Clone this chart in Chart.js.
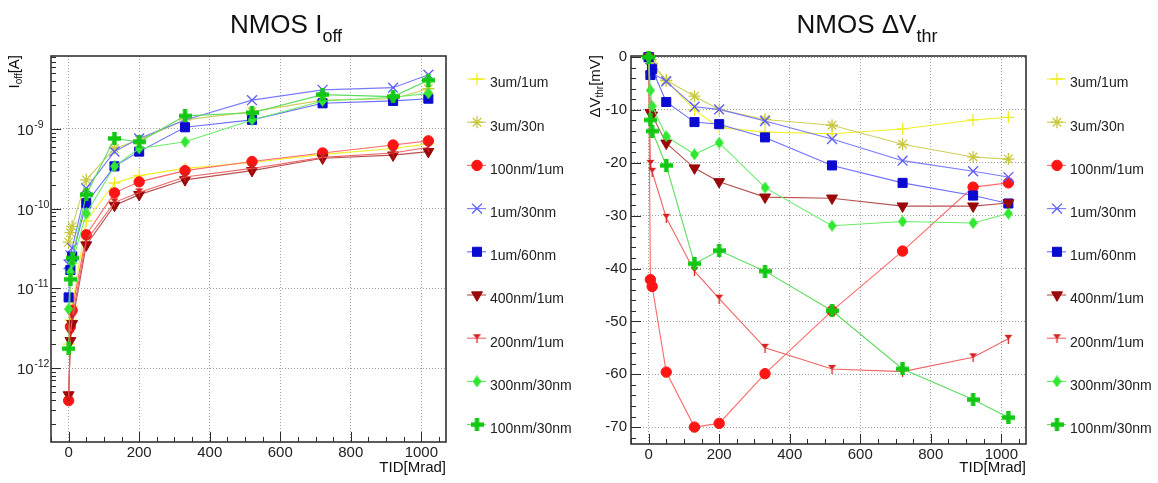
<!DOCTYPE html>
<html><head><meta charset="utf-8">
<script src="https://cdn.jsdelivr.net/npm/chart.js@4.4.1/dist/chart.umd.min.js"></script>
<style>
body{margin:0;background:#fff;width:1158px;height:483px;overflow:hidden;position:relative;font-family:"Liberation Sans",Arial,Helvetica,sans-serif;color:#111;}
canvas{position:absolute;top:0;}
.t{position:absolute;white-space:nowrap;}
.title{font-size:26px;line-height:26px;text-align:center;top:11px;}
.title .sb{font-size:18px;position:relative;top:9px;}
.ax{font-size:15px;line-height:15px;}
.ax .sb{font-size:10px;position:relative;top:3px;}
.rot{transform-origin:0 0;transform:rotate(-90deg);width:200px;text-align:right;}
</style></head><body>
<canvas id="c1" width="572" height="483" style="left:0"></canvas>
<canvas id="c2" width="578" height="483" style="left:580px"></canvas>
<div class="t title" style="left:186px;width:200px">NMOS I<span class="sb">off</span></div>
<div class="t title" style="left:767px;width:200px">NMOS &Delta;V<span class="sb">thr</span></div>
<div class="t ax rot" style="left:6px;top:255px">I<span class="sb">off</span>[A]</div>
<div class="t ax rot" style="left:587px;top:255px">&Delta;V<span class="sb">thr</span>[mV]</div>
<div class="t ax" style="left:246px;width:200px;text-align:right;top:459px">TID[Mrad]</div>
<div class="t ax" style="left:826px;width:200px;text-align:right;top:459px">TID[Mrad]</div>
<script>
// ---------- data ----------
const doses = [0, 5, 10, 50, 130, 200, 330, 520, 720, 920, 1020];
const seriesNames = ['3um/1um','3um/30n','100nm/1um','1um/30nm','1um/60nm','400nm/1um','200nm/1um','300nm/30nm','100nm/30nm'];

// Ioff [A]
const ioff_3um_1um    = [2.0e-12, 4.0e-12, 6.0e-12, 7.0e-11, 2.1e-10, 2.6e-10, 3.2e-10, 3.8e-10, 4.8e-10, 5.7e-10, 6.5e-10];
const ioff_3um_30n    = [3.8e-11, 5.0e-11, 6.0e-11, 2.3e-10, 5.7e-10, 7.3e-10, 1.3e-9, 1.65e-9, 2.3e-9, 2.4e-9, 3.2e-9];
const ioff_100nm_1um  = [3.9e-13, 3.3e-12, 5.3e-12, 4.7e-11, 1.58e-10, 2.17e-10, 3.0e-10, 3.9e-10, 5.0e-10, 6.3e-10, 7.1e-10];
const ioff_1um_30nm   = [2.0e-11, 2.6e-11, 3.2e-11, 1.8e-10, 5.2e-10, 7.6e-10, 1.3e-9, 2.3e-9, 3.1e-9, 3.3e-9, 4.8e-9];
const ioff_1um_60nm   = [7.7e-12, 1.7e-11, 2.5e-11, 1.17e-10, 3.4e-10, 5.2e-10, 1.05e-9, 1.3e-9, 2.1e-9, 2.25e-9, 2.4e-9];
const ioff_400nm_1um  = [4.6e-13, 2.2e-12, 3.6e-12, 3.5e-11, 1.1e-10, 1.5e-10, 2.3e-10, 3.0e-10, 4.3e-10, 4.7e-10, 5.2e-10];
const ioff_200nm_1um  = [4.0e-13, 2.6e-12, 4.2e-12, 4.0e-11, 1.2e-10, 1.6e-10, 2.5e-10, 3.2e-10, 4.4e-10, 5.0e-10, 5.9e-10];
const ioff_300nm_30nm = [5.5e-12, 1.6e-11, 2.1e-11, 8.7e-11, 3.4e-10, 5.7e-10, 6.9e-10, 1.3e-9, 2.25e-9, 2.5e-9, 2.8e-9];
const ioff_100nm_30nm = [1.75e-12, 1.3e-11, 2.4e-11, 1.5e-10, 7.6e-10, 6.9e-10, 1.46e-9, 1.6e-9, 2.7e-9, 2.55e-9, 4.1e-9];

// delta Vthr [mV]
const dv_3um_1um    = [0, -0.8, -1.5, -4.5, -10, -13.3, -14.2, -14.5, -13.6, -11.9, -11.4];
const dv_3um_30n    = [0, -0.5, -1.2, -4.4, -7.4, -9.9, -11.8, -12.9, -16.5, -18.9, -19.3];
const dv_100nm_1um  = [0, -42.1, -43.4, -59.6, -70, -69.3, -59.9, -48, -36.7, -24.6, -23.8];
const dv_1um_30nm   = [0, -2, -3, -4.6, -9.4, -9.9, -12.1, -15.5, -19.6, -21.6, -22.7];
const dv_1um_60nm   = [0, -3.4, -2.3, -8.5, -12.3, -12.7, -15.2, -20.5, -23.8, -26.2, -27.7];
const dv_400nm_1um  = [0, -10.5, -11, -16.3, -21, -23.6, -26.5, -26.7, -28.2, -28.2, -27.6];
const dv_200nm_1um  = [0, -20.2, -21.7, -30.4, -40.5, -45.7, -55, -59, -59.5, -56.8, -53.3];
const dv_300nm_30nm = [0, -6.3, -9.3, -15, -18.4, -16.2, -24.7, -31.9, -31.1, -31.4, -29.6];
const dv_100nm_30nm = [0, -11.9, -14, -20.5, -39.1, -36.6, -40.5, -48, -59, -64.8, -68.2];

// ticks
const xTicks = [0, 200, 400, 600, 800, 1000];
const leftYTicks = [1e-12, 1e-11, 1e-10, 1e-9];
const leftYBase = '10';
const leftYExp = ['-12', '-11', '-10', '-9'];
const rightYTicks = [0, -10, -20, -30, -40, -50, -60, -70];
const rightYLabels = ['0', '-10', '-20', '-30', '-40', '-50', '-60', '-70'];

const ioffSeries = [ioff_3um_1um, ioff_3um_30n, ioff_100nm_1um, ioff_1um_30nm, ioff_1um_60nm, ioff_400nm_1um, ioff_200nm_1um, ioff_300nm_30nm, ioff_100nm_30nm];
const dvSeries = [dv_3um_1um, dv_3um_30n, dv_100nm_1um, dv_1um_30nm, dv_1um_60nm, dv_400nm_1um, dv_200nm_1um, dv_300nm_30nm, dv_100nm_30nm];

// ---------- marker images ----------
function mk(w, h, fn) { const c = document.createElement('canvas'); c.width = w; c.height = h; fn(c.getContext('2d')); return c; }
const greenCross = mk(13, 13, g => { g.fillStyle = '#12c812'; g.fillRect(0, 4.3, 13, 4.4); g.fillRect(4.3, 0, 4.4, 13); });
const greenDiamond = mk(9, 12, g => { g.fillStyle = '#2fe82f'; g.beginPath(); g.moveTo(4.5, 0); g.lineTo(9, 6); g.lineTo(4.5, 12); g.lineTo(0, 6); g.closePath(); g.fill(); });
const redTri = mk(9, 10, g => { g.fillStyle = '#d42020'; g.strokeStyle = '#d42020'; g.lineWidth = 1.3; g.beginPath(); g.moveTo(0.5, 1); g.lineTo(8.5, 1); g.lineTo(4.5, 6); g.closePath(); g.fill(); g.beginPath(); g.moveTo(4.5, 5); g.lineTo(4.5, 10); g.stroke(); });

const styles = [
  { line: '#f0f028', fill: '#f0f028', stroke: '#eeee22', ps: 'cross', r: 6, bw: 1.3, rot: 0 },
  { line: '#cfcf5a', fill: '#c8c840', stroke: '#c8c840', ps: 'star', r: 6, bw: 1.3, rot: 0 },
  { line: '#ff6a6a', fill: '#ff1414', stroke: '#ff1414', ps: 'circle', r: 5.2, bw: 1, rot: 0 },
  { line: '#7a7aff', fill: '#5a5aff', stroke: '#5a5aff', ps: 'crossRot', r: 7, bw: 1.3, rot: 0 },
  { line: '#6d6dff', fill: '#0a0ad0', stroke: '#0a0ad0', ps: 'rect', r: 6.4, bw: 1, rot: 0 },
  { line: '#b85050', fill: '#9a0808', stroke: '#9a0808', ps: 'triangle', r: 6.3, bw: 1, rot: 180 },
  { line: '#f06464', fill: '#d42020', stroke: '#d42020', ps: redTri, r: 4, bw: 1, rot: 0 },
  { line: '#6aec6a', fill: '#2fe82f', stroke: '#2fe82f', ps: greenDiamond, r: 4, bw: 1, rot: 0 },
  { line: '#5cdc5c', fill: '#12c812', stroke: '#12c812', ps: greenCross, r: 5, bw: 1, rot: 0 }
];

const FONT = '"Liberation Sans", Arial, Helvetica, sans-serif';

function buildDatasets(series) {
  return series.map((vals, i) => ({
    label: seriesNames[i],
    data: doses.map((d, k) => ({ x: d, y: vals[k] })),
    borderColor: styles[i].line,
    borderWidth: 1.1,
    pointStyle: styles[i].ps,
    pointRadius: styles[i].r,
    pointRotation: styles[i].rot,
    pointBackgroundColor: styles[i].fill,
    pointBorderColor: styles[i].stroke,
    pointBorderWidth: styles[i].bw,
    fill: false,
    tension: 0,
    clip: false,
    order: series.length - i
  }));
}

function drawPt(ctx, st, x, y) {
  ctx.save();
  ctx.fillStyle = st.fill; ctx.strokeStyle = st.stroke; ctx.lineWidth = st.bw;
  Chart.helpers.drawPoint(ctx, { pointStyle: st.ps, radius: st.r, rotation: st.rot, borderWidth: st.bw }, x, y);
  ctx.restore();
}

// frame + inside ticks (ROOT look), log labels, and legend
function framePlugin(kind) {
  return {
    id: 'frame' + kind,
    beforeDatasetsDraw(chart) {
      const ctx = chart.ctx, a = chart.chartArea, xs = chart.scales.x, ys = chart.scales.y;
      ctx.save();
      ctx.strokeStyle = '#2a2a2a'; ctx.lineWidth = 1;
      ctx.beginPath();
      for (let v = -50; v <= xs.max; v += 50) {
        const px = Math.round(xs.getPixelForValue(v)) + 0.5;
        const len = (v % 200 === 0) ? 10 : 5;
        ctx.moveTo(px, a.bottom); ctx.lineTo(px, a.bottom - len);
      }
      if (kind === 'log') {
        for (let d = -14; d <= -8; d++) {
          for (let m = 1; m <= 9; m++) {
            const v = m * Math.pow(10, d);
            if (v < ys.min || v > ys.max) continue;
            const py = Math.round(ys.getPixelForValue(v)) + 0.5;
            const len = m === 1 ? 10 : 5;
            ctx.moveTo(a.left, py); ctx.lineTo(a.left + len, py);
          }
        }
      } else {
        for (let v = -72; v <= 0; v += 2) {
          const py = Math.round(ys.getPixelForValue(v)) + 0.5;
          const len = (v % 10 === 0) ? 10 : 5;
          ctx.moveTo(a.left, py); ctx.lineTo(a.left + len, py);
        }
      }
      ctx.stroke();
      ctx.lineWidth = 1.6; ctx.strokeStyle = '#333';
      ctx.strokeRect(a.left, a.top, a.right - a.left, a.bottom - a.top);
      // log-axis labels 10^n with real superscript
      if (kind === 'log') {
        ctx.fillStyle = '#222';
        ctx.textBaseline = 'middle';
        ctx.textAlign = 'left';
        leftYTicks.forEach((v, i) => {
          const py = ys.getPixelForValue(v);
          const bx = 17;
          ctx.font = '15px ' + FONT;
          ctx.fillText(leftYBase, bx, py + 2);
          const bw = ctx.measureText(leftYBase).width;
          ctx.font = '10.5px ' + FONT;
          ctx.fillText(leftYExp[i], bx + bw + 0.5, py - 4);
        });
      }
      ctx.restore();
    },
    afterDraw(chart) {
      const ctx = chart.ctx;
      const mx = 477, tx = 490, y0 = 83, dy = 43.2;
      ctx.save();
      ctx.font = '14px ' + FONT;
      ctx.textBaseline = 'middle';
      ctx.fillStyle = '#222';
      seriesNames.forEach((name, i) => {
        const st = styles[i];
        const y = y0 + i * dy;
        ctx.save();
        ctx.strokeStyle = st.line; ctx.lineWidth = 1.1;
        ctx.beginPath(); ctx.moveTo(mx - 10, y - 4); ctx.lineTo(mx + 9, y - 4); ctx.stroke();
        ctx.restore();
        drawPt(ctx, st, mx, y - 4);
        ctx.fillStyle = '#222';
        ctx.fillText(name, tx, y + 0.5);
      });
      ctx.restore();
    }
  };
}

function makeChart(id, datasets, yScale, kind, padRight, bottomH) {
  return new Chart(document.getElementById(id), {
    type: 'line',
    data: { datasets },
    options: {
      responsive: false, animation: false, devicePixelRatio: 1,
      layout: { padding: { top: 56, right: padRight, left: 0, bottom: 0 } },
      plugins: { legend: { display: false }, title: { display: false }, tooltip: { enabled: false } },
      events: [],
      scales: {
        x: {
          type: 'linear', min: -50, max: 1070,
          afterBuildTicks: s => { s.ticks = xTicks.map(v => ({ value: v })); },
          afterFit: s => { s.height = bottomH; },
          ticks: { font: { family: FONT, size: 15 }, color: '#222', padding: 2, maxRotation: 0, autoSkip: false, callback: v => String(v) },
          grid: { drawTicks: false, color: '#a0a0a0', lineWidth: 1 },
          border: { display: false, dash: [1, 2] }
        },
        y: yScale
      }
    },
    plugins: [framePlugin(kind)]
  });
}

makeChart('c1', buildDatasets(ioffSeries), {
  type: 'logarithmic', min: 1.18e-13, max: 8.24e-9,
  afterBuildTicks: s => { s.ticks = leftYTicks.map(v => ({ value: v })); },
  afterFit: s => { s.width = 51; },
  ticks: { display: false },
  grid: { drawTicks: false, color: '#a0a0a0', lineWidth: 1 },
  border: { display: false, dash: [1, 2] }
}, 'log', 572 - 446, 483 - 442);

makeChart('c2', buildDatasets(dvSeries), {
  type: 'linear', min: -73.2, max: 0.2,
  afterBuildTicks: s => { s.ticks = rightYTicks.map(v => ({ value: v })); },
  afterFit: s => { s.width = 51; },
  ticks: { font: { family: FONT, size: 15 }, color: '#222', padding: 4, autoSkip: false, callback: (v, i) => rightYLabels[i] },
  grid: { drawTicks: false, color: '#a0a0a0', lineWidth: 1 },
  border: { display: false, dash: [1, 2] }
}, 'lin', 578 - 446, 483 - 444);
</script>
</body></html>
